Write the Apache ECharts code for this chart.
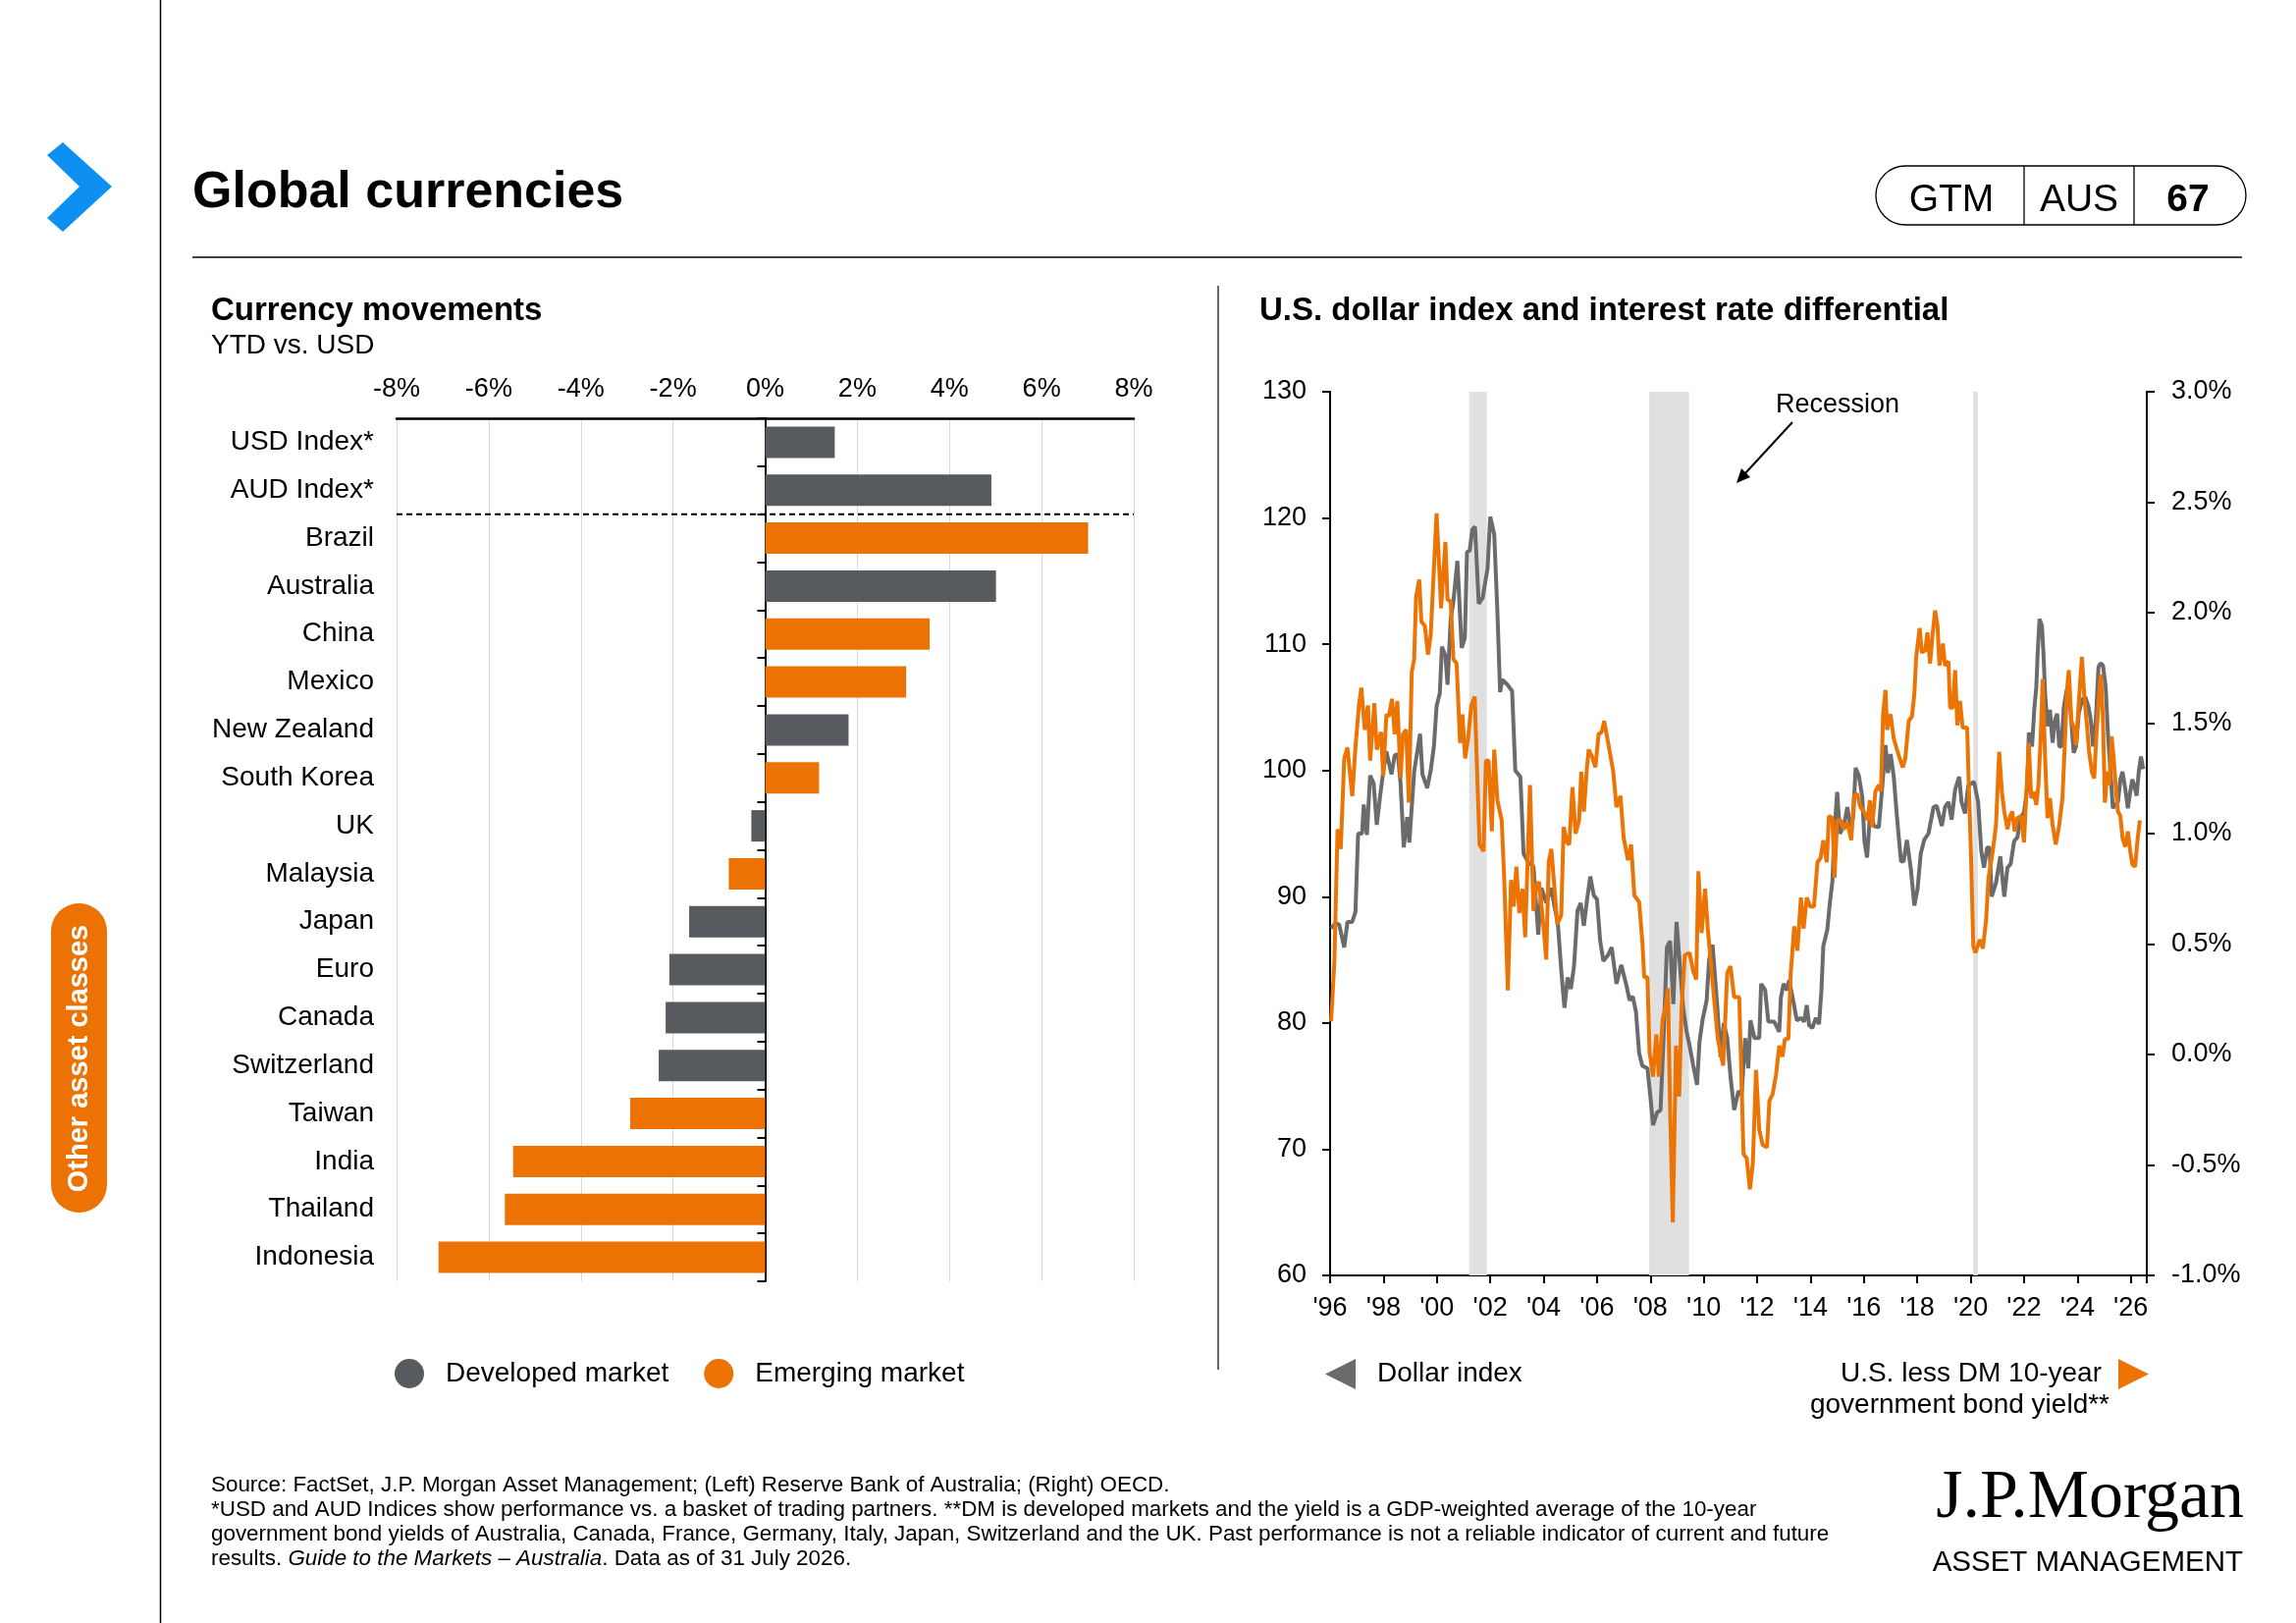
<!DOCTYPE html>
<html><head><meta charset="utf-8">
<script src="https://cdn.jsdelivr.net/npm/echarts@6/dist/echarts.min.js"></script>
<style>html,body{margin:0;padding:0;background:#fff}#c{width:2339px;height:1653px}</style>
</head><body><div id="c"></div>
<script>
// ---------- DATA ----------
const categories = ['USD Index*','AUD Index*','Brazil','Australia','China','Mexico','New Zealand','South Korea','UK','Malaysia','Japan','Euro','Canada','Switzerland','Taiwan','India','Thailand','Indonesia'];
const ytdChange = [1.51, 4.91, 7.01, 5.01, 3.57, 3.06, 1.81, 1.17, -0.30, -0.79, -1.65, -2.08, -2.16, -2.31, -2.93, -5.47, -5.65, -7.09];
const marketType = ['DM','DM','EM','DM','EM','EM','DM','EM','DM','EM','DM','DM','DM','DM','EM','EM','EM','EM'];
const recessions = [[2001.21, 2001.87], [2007.96, 2009.45], [2020.10, 2020.27]];
const dollarIndex = [[1996.04,87.5],[1996.2,87.9],[1996.34,87.8],[1996.53,86.0],[1996.65,88.0],[1996.83,88.0],[1996.95,88.8],[1997.05,95.0],[1997.2,95.0],[1997.26,97.3],[1997.38,94.9],[1997.5,99.6],[1997.63,99.0],[1997.75,95.7],[1997.87,97.9],[1997.99,99.9],[1998.11,101.5],[1998.3,99.7],[1998.42,101.2],[1998.54,101.3],[1998.64,99.0],[1998.76,93.9],[1998.89,96.3],[1998.97,94.3],[1999.15,99.9],[1999.37,102.9],[1999.46,99.7],[1999.64,98.6],[1999.77,100.0],[1999.89,101.9],[1999.99,105.1],[2000.11,106.1],[2000.19,109.8],[2000.32,109.1],[2000.4,106.8],[2000.52,112.0],[2000.62,113.4],[2000.77,116.6],[2000.93,109.7],[2001.05,110.5],[2001.13,117.3],[2001.23,117.4],[2001.33,119.1],[2001.43,119.3],[2001.57,113.2],[2001.72,113.7],[2001.78,114.5],[2001.9,116.0],[2002.0,120.1],[2002.15,118.7],[2002.27,112.5],[2002.37,106.2],[2002.45,107.2],[2002.64,106.8],[2002.82,106.3],[2002.94,100.0],[2003.13,99.5],[2003.25,93.4],[2003.43,92.7],[2003.62,92.4],[2003.8,87.0],[2003.92,90.7],[2004.1,89.5],[2004.29,90.7],[2004.41,89.2],[2004.53,88.0],[2004.66,84.2],[2004.78,81.2],[2004.9,83.6],[2005.02,82.7],[2005.14,84.5],[2005.27,88.9],[2005.39,89.5],[2005.51,87.7],[2005.63,89.8],[2005.75,91.6],[2005.88,90.1],[2006.0,89.8],[2006.12,86.5],[2006.24,84.9],[2006.42,85.4],[2006.55,86.0],[2006.73,83.1],[2006.91,84.6],[2007.1,83.0],[2007.22,81.8],[2007.34,82.1],[2007.46,80.9],[2007.58,77.6],[2007.7,76.6],[2007.89,76.4],[2008.01,74.0],[2008.1,71.9],[2008.25,72.9],[2008.38,73.1],[2008.5,79.1],[2008.62,86.0],[2008.74,86.5],[2008.86,81.5],[2008.98,88.0],[2009.11,84.5],[2009.23,81.2],[2009.35,79.4],[2009.47,78.2],[2009.6,76.7],[2009.75,75.1],[2009.84,78.5],[2009.96,80.3],[2010.11,81.8],[2010.2,85.0],[2010.33,86.2],[2010.51,81.2],[2010.63,77.3],[2010.75,80.0],[2010.88,78.8],[2011.0,75.8],[2011.14,73.1],[2011.3,74.6],[2011.42,74.3],[2011.55,78.8],[2011.67,76.4],[2011.75,80.2],[2011.9,78.8],[2012.08,78.8],[2012.15,83.1],[2012.3,82.6],[2012.42,80.1],[2012.64,80.1],[2012.83,79.3],[2012.89,82.0],[2012.99,83.1],[2013.12,82.6],[2013.2,83.4],[2013.33,82.0],[2013.49,80.2],[2013.64,80.4],[2013.76,80.1],[2013.86,81.4],[2013.95,79.8],[2014.07,79.6],[2014.2,80.4],[2014.32,79.9],[2014.41,82.6],[2014.48,86.1],[2014.63,87.4],[2014.73,89.6],[2014.82,91.2],[2014.9,95.3],[2015.0,98.3],[2015.1,95.0],[2015.25,95.6],[2015.38,97.1],[2015.5,95.5],[2015.6,96.3],[2015.69,100.2],[2015.81,99.6],[2015.94,97.9],[2016.02,94.4],[2016.12,93.1],[2016.25,97.1],[2016.37,95.6],[2016.56,95.5],[2016.68,98.5],[2016.81,102.0],[2016.9,99.8],[2017.0,101.3],[2017.12,99.5],[2017.24,96.3],[2017.39,92.8],[2017.49,92.8],[2017.61,94.5],[2017.76,92.2],[2017.89,89.3],[2018.01,90.6],[2018.13,93.4],[2018.26,94.5],[2018.42,95.0],[2018.61,97.1],[2018.73,97.2],[2018.92,95.6],[2019.04,97.1],[2019.17,97.5],[2019.29,96.1],[2019.42,98.5],[2019.57,99.5],[2019.66,97.5],[2019.79,96.6],[2019.91,98.8],[2020.13,99.1],[2020.28,97.5],[2020.4,93.6],[2020.5,92.3],[2020.62,93.9],[2020.71,93.9],[2020.79,90.0],[2020.95,91.1],[2021.11,93.2],[2021.26,90.0],[2021.38,92.3],[2021.5,92.6],[2021.63,94.4],[2021.75,94.7],[2021.87,96.2],[2022.0,96.7],[2022.12,98.6],[2022.18,103.0],[2022.3,101.9],[2022.39,105.0],[2022.46,106.6],[2022.51,109.2],[2022.58,112.0],[2022.67,111.5],[2022.73,109.2],[2022.79,106.1],[2022.88,103.5],[2022.97,104.8],[2023.07,102.2],[2023.16,104.0],[2023.24,104.5],[2023.32,101.9],[2023.4,101.9],[2023.49,105.0],[2023.59,106.3],[2023.68,106.6],[2023.77,104.0],[2023.86,101.4],[2023.95,101.9],[2024.05,104.5],[2024.17,105.6],[2024.3,105.8],[2024.42,105.0],[2024.5,104.0],[2024.59,101.9],[2024.69,104.0],[2024.79,108.2],[2024.87,108.5],[2024.96,108.3],[2025.06,106.6],[2025.15,102.7],[2025.24,99.9],[2025.33,97.0],[2025.42,97.3],[2025.52,97.5],[2025.61,99.3],[2025.69,99.9],[2025.79,98.6],[2025.89,97.0],[2025.98,98.3],[2026.06,99.3],[2026.13,98.8],[2026.22,98.0],[2026.3,99.9],[2026.38,101.1],[2026.47,100.1]];
const rateDiff = [[1996.04,0.15],[1996.16,0.42],[1996.28,1.02],[1996.4,0.93],[1996.53,1.34],[1996.65,1.39],[1996.83,1.17],[1996.95,1.39],[1997.08,1.58],[1997.17,1.66],[1997.3,1.47],[1997.42,1.58],[1997.5,1.33],[1997.66,1.59],[1997.75,1.38],[1997.91,1.46],[1997.99,1.26],[1998.11,1.54],[1998.2,1.53],[1998.32,1.61],[1998.42,1.45],[1998.52,1.6],[1998.64,1.25],[1998.73,1.45],[1998.85,1.47],[1998.95,1.14],[1999.06,1.73],[1999.15,1.79],[1999.22,2.07],[1999.34,2.15],[1999.42,1.96],[1999.55,1.94],[1999.67,1.81],[1999.77,1.9],[1999.89,2.2],[1999.99,2.45],[2000.07,2.25],[2000.16,2.02],[2000.32,2.32],[2000.4,2.06],[2000.52,2.05],[2000.62,1.79],[2000.74,1.77],[2000.87,1.41],[2000.96,1.54],[2001.06,1.34],[2001.17,1.43],[2001.29,1.58],[2001.42,1.62],[2001.5,1.31],[2001.6,0.95],[2001.75,0.92],[2001.84,1.33],[2001.94,1.33],[2002.06,1.01],[2002.15,1.38],[2002.27,1.15],[2002.43,1.06],[2002.52,0.81],[2002.66,0.29],[2002.78,0.79],[2002.88,0.67],[2002.98,0.85],[2003.09,0.64],[2003.21,0.75],[2003.31,0.53],[2003.49,1.22],[2003.62,0.65],[2003.74,0.77],[2003.83,0.78],[2003.98,0.6],[2004.1,0.43],[2004.19,0.87],[2004.29,0.93],[2004.41,0.75],[2004.51,0.59],[2004.66,0.63],[2004.75,1.03],[2004.88,0.96],[2004.96,0.95],[2005.08,1.21],[2005.2,1.0],[2005.33,1.06],[2005.41,1.28],[2005.51,1.1],[2005.61,1.28],[2005.69,1.38],[2005.81,1.35],[2005.94,1.3],[2006.06,1.45],[2006.18,1.46],[2006.27,1.51],[2006.42,1.41],[2006.61,1.28],[2006.73,1.12],[2006.88,1.17],[2007.0,0.98],[2007.16,0.88],[2007.28,0.95],[2007.4,0.72],[2007.58,0.69],[2007.7,0.51],[2007.77,0.35],[2007.89,0.35],[2007.97,0.01],[2008.1,-0.1],[2008.22,0.09],[2008.32,-0.1],[2008.46,0.16],[2008.56,0.21],[2008.66,0.3],[2008.74,-0.25],[2008.84,-0.76],[2008.96,0.04],[2009.08,-0.19],[2009.17,0.21],[2009.29,0.45],[2009.47,0.46],[2009.6,0.38],[2009.72,0.34],[2009.8,0.83],[2009.92,0.55],[2010.05,0.75],[2010.15,0.57],[2010.39,0.25],[2010.53,0.07],[2010.73,-0.05],[2010.88,0.37],[2011.0,0.4],[2011.14,0.26],[2011.33,0.26],[2011.49,-0.45],[2011.61,-0.47],[2011.73,-0.61],[2011.84,-0.49],[2011.96,-0.07],[2012.08,-0.34],[2012.21,-0.41],[2012.37,-0.42],[2012.46,-0.21],[2012.58,-0.18],[2012.71,-0.09],[2012.83,0.04],[2012.95,-0.01],[2013.04,0.07],[2013.17,0.07],[2013.26,0.37],[2013.39,0.58],[2013.51,0.47],[2013.64,0.71],[2013.74,0.57],[2013.86,0.71],[2013.99,0.67],[2014.13,0.67],[2014.26,0.87],[2014.38,0.89],[2014.48,0.97],[2014.61,0.87],[2014.69,1.08],[2014.82,1.07],[2014.9,0.8],[2015.0,1.06],[2015.13,1.06],[2015.25,1.02],[2015.38,1.05],[2015.53,0.97],[2015.63,1.17],[2015.75,1.18],[2015.87,1.12],[2016.0,1.1],[2016.15,1.06],[2016.22,1.15],[2016.31,1.03],[2016.43,1.19],[2016.56,1.22],[2016.64,1.19],[2016.72,1.54],[2016.81,1.65],[2016.87,1.47],[2017.0,1.54],[2017.12,1.43],[2017.24,1.38],[2017.37,1.33],[2017.46,1.3],[2017.55,1.34],[2017.68,1.51],[2017.8,1.53],[2017.89,1.63],[2017.96,1.8],[2018.09,1.93],[2018.17,1.82],[2018.3,1.83],[2018.38,1.91],[2018.48,1.77],[2018.58,1.91],[2018.67,2.01],[2018.76,1.94],[2018.83,1.76],[2018.96,1.86],[2019.04,1.76],[2019.17,1.78],[2019.23,1.57],[2019.33,1.57],[2019.42,1.74],[2019.5,1.49],[2019.6,1.6],[2019.7,1.48],[2019.87,1.48],[2019.93,1.22],[2020.01,0.92],[2020.1,0.49],[2020.18,0.46],[2020.34,0.52],[2020.46,0.48],[2020.58,0.61],[2020.67,0.8],[2020.83,0.92],[2020.95,1.04],[2021.07,1.37],[2021.17,1.19],[2021.26,1.1],[2021.38,1.02],[2021.48,1.08],[2021.56,1.1],[2021.65,1.01],[2021.75,1.07],[2021.89,1.08],[2022.0,0.96],[2022.09,1.19],[2022.18,1.41],[2022.27,1.16],[2022.36,1.19],[2022.46,1.13],[2022.54,1.22],[2022.62,1.42],[2022.7,1.7],[2022.79,1.34],[2022.88,1.07],[2022.97,1.16],[2023.07,1.04],[2023.19,0.95],[2023.32,1.04],[2023.44,1.16],[2023.53,1.41],[2023.61,1.65],[2023.68,1.74],[2023.77,1.51],[2023.86,1.48],[2023.95,1.4],[2024.05,1.59],[2024.17,1.8],[2024.26,1.62],[2024.35,1.5],[2024.44,1.37],[2024.54,1.28],[2024.63,1.25],[2024.71,1.44],[2024.81,1.62],[2024.88,1.72],[2024.96,1.51],[2025.03,1.14],[2025.12,1.28],[2025.2,1.22],[2025.28,1.44],[2025.36,1.34],[2025.45,1.19],[2025.52,1.1],[2025.61,1.08],[2025.69,0.98],[2025.79,0.94],[2025.89,1.01],[2025.98,0.92],[2026.06,0.86],[2026.16,0.85],[2026.26,0.98],[2026.34,1.06]];

// ---------- STYLE ----------
const FONT = "'Liberation Sans', Arial, sans-serif";
const DM_GRAY = '#575a5e';
const EM_ORANGE = '#eb7203';
const LINE_GRAY = '#6b6b6b';
const LINE_ORANGE = '#ec7405';
const BLUE = '#0e8ff2';

const dmData = ytdChange.map((v, i) => marketType[i] === 'DM' ? v : null);
const emData = ytdChange.map((v, i) => marketType[i] === 'EM' ? v : null);

const chart = echarts.init(document.getElementById('c'), null, {renderer: 'canvas'});

const option = {
  animation: false,
  backgroundColor: '#ffffff',
  textStyle: {fontFamily: FONT},
  grid: [
    {left: 404, right: 1184, top: 426, bottom: 348, containLabel: false},
    {left: 1355, right: 152, top: 399, bottom: 354, containLabel: false}
  ],
  xAxis: [
    {type: 'value', gridIndex: 0, position: 'top', min: -8, max: 8, interval: 2,
     axisLine: {show: true, onZero: false, lineStyle: {color: '#000', width: 2.5}},
     axisTick: {show: false},
     axisLabel: {formatter: v => v + '%', fontSize: 27, color: '#000', margin: 16, fontFamily: FONT},
     splitLine: {show: true, lineStyle: {color: '#d9d9d9', width: 1}}},
    {type: 'value', gridIndex: 1, position: 'bottom', min: 1996, max: 2026.6, interval: 2,
     axisLine: {show: true, onZero: false, lineStyle: {color: '#000', width: 2}},
     axisTick: {show: true, length: 8, lineStyle: {color: '#000', width: 2}},
     axisLabel: {fontSize: 27, color: '#000', margin: 20, fontFamily: FONT,
       formatter: v => (Math.abs(v - Math.round(v)) < 1e-6 && Math.round(v) % 2 === 0) ? "'" + String(Math.round(v)).slice(2) : ''},
     splitLine: {show: false}}
  ],
  yAxis: [
    {type: 'category', gridIndex: 0, data: categories, inverse: true, position: 'left',
     axisLine: {show: false, onZero: false}, axisTick: {show: false},
     axisLabel: {fontSize: 28, color: '#000', margin: 23, fontFamily: FONT},
     splitLine: {show: false}},
    {type: 'category', gridIndex: 0, data: categories, inverse: true, position: 'left',
     axisLine: {show: true, onZero: true, onZeroAxisIndex: 0, lineStyle: {color: '#000', width: 2}},
     axisTick: {show: true, length: 8, lineStyle: {color: '#000', width: 2}},
     axisLabel: {show: false}, splitLine: {show: false}},
    {type: 'value', gridIndex: 1, position: 'left', min: 60, max: 130, interval: 10,
     axisLine: {show: true, onZero: false, lineStyle: {color: '#000', width: 2}},
     axisTick: {show: true, length: 8, lineStyle: {color: '#000', width: 2}},
     axisLabel: {fontSize: 27, color: '#000', margin: 24, fontFamily: FONT},
     splitLine: {show: false}},
    {type: 'value', gridIndex: 1, position: 'right', min: -1, max: 3, interval: 0.5,
     axisLine: {show: true, onZero: false, lineStyle: {color: '#000', width: 2}},
     axisTick: {show: true, length: 8, lineStyle: {color: '#000', width: 2}},
     axisLabel: {fontSize: 27, color: '#000', margin: 25, fontFamily: FONT, formatter: v => v.toFixed(1) + '%'},
     splitLine: {show: false}}
  ],
  legend: [
    {data: ['Developed market', 'Emerging market'], left: 397, top: 1379, orient: 'horizontal',
     icon: 'circle', itemWidth: 30, itemHeight: 30, itemGap: 36, selectedMode: false,
     textStyle: {fontSize: 28, color: '#000', fontFamily: FONT, padding: [0, 0, 0, 17]}},
    {data: ['Dollar index'], left: 1345, top: 1379, icon: 'path://M0,50L100,0L100,100Z',
     itemWidth: 31, itemHeight: 31, selectedMode: false,
     textStyle: {fontSize: 28, color: '#000', fontFamily: FONT, padding: [0, 0, 0, 17]}},
    {data: ['U.S. less DM 10-year government bond yield**'], right: 145, top: 1379, align: 'right',
     icon: 'path://M0,0L100,50L0,100Z', itemWidth: 31, itemHeight: 31, selectedMode: false,
     formatter: () => 'U.S. less DM 10-year',
     textStyle: {fontSize: 28, color: '#000', fontFamily: FONT, padding: [0, 12, 0, 0]}}
  ],
  series: [
    {name: 'Developed market', type: 'bar', xAxisIndex: 0, yAxisIndex: 0, data: dmData,
     barWidth: 32, barGap: '-100%', itemStyle: {color: DM_GRAY}, z: 2},
    {name: 'Emerging market', type: 'bar', xAxisIndex: 0, yAxisIndex: 0, data: emData,
     barWidth: 32, barGap: '-100%', itemStyle: {color: EM_ORANGE}, z: 2},
    {name: 'Dollar index', type: 'line', xAxisIndex: 1, yAxisIndex: 2, data: dollarIndex,
     showSymbol: false, symbol: 'none', lineStyle: {color: LINE_GRAY, width: 4}, itemStyle: {color: LINE_GRAY}, z: 3,
     markArea: {silent: true, itemStyle: {color: '#e0e0e0'},
       data: recessions.map(r => [{xAxis: r[0]}, {xAxis: r[1]}])}},
    {name: 'U.S. less DM 10-year government bond yield**', type: 'line', xAxisIndex: 1, yAxisIndex: 3, data: rateDiff,
     showSymbol: false, symbol: 'none', lineStyle: {color: LINE_ORANGE, width: 4}, itemStyle: {color: LINE_ORANGE}, z: 4}
  ]
};
chart.setOption(option);

// ---------- DECORATION ----------
const T = (text, x, y, size, opts) => Object.assign({
  type: 'text', x: x, y: y, silent: true,
  style: Object.assign({text: text, font: (opts && opts.weight ? opts.weight + ' ' : '') + size + 'px ' + FONT,
    fill: '#000', textAlign: 'left', textVerticalAlign: 'middle'}, opts && opts.style)
}, opts && opts.el);

const yA = chart.convertToPixel({yAxisIndex: 0}, categories[1]);
const yB = chart.convertToPixel({yAxisIndex: 0}, categories[2]);
const xMin = chart.convertToPixel({xAxisIndex: 0}, -8);
const xMax = chart.convertToPixel({xAxisIndex: 0}, 8);
const yDash = (yA + yB) / 2;

const graphics = [
  {type: 'line', shape: {x1: 163.5, y1: 0, x2: 163.5, y2: 1653}, style: {stroke: '#000', lineWidth: 1.5}, silent: true},
  {type: 'polygon', shape: {points: [[64,145],[114,190],[64,236],[48,222],[81,190],[48,158]]}, style: {fill: BLUE}, silent: true},
  T('Global currencies', 196, 197, 52, {weight: 'bold'}),
  {type: 'line', shape: {x1: 196, y1: 262, x2: 2284, y2: 262}, style: {stroke: '#000', lineWidth: 1.5}, silent: true},
  {type: 'rect', shape: {x: 1911, y: 169, width: 377, height: 60, r: 30}, style: {fill: 'none', stroke: '#000', lineWidth: 1.3}, silent: true},
  {type: 'line', shape: {x1: 2062, y1: 169, x2: 2062, y2: 229}, style: {stroke: '#000', lineWidth: 1.3}, silent: true},
  {type: 'line', shape: {x1: 2174, y1: 169, x2: 2174, y2: 229}, style: {stroke: '#000', lineWidth: 1.3}, silent: true},
  T('GTM', 1988, 204, 39, {style: {textAlign: 'center'}}),
  T('AUS', 2118, 204, 39, {style: {textAlign: 'center'}}),
  T('67', 2229, 204, 39, {weight: 'bold', style: {textAlign: 'center'}}),
  {type: 'rect', shape: {x: 52, y: 920, width: 57, height: 315, r: 28.5}, style: {fill: EM_ORANGE}, silent: true},
  T('Other asset classes', 81, 1078, 29, {weight: 'bold', style: {fill: '#fff', textAlign: 'center'}, el: {rotation: Math.PI / 2}}),
  {type: 'line', shape: {x1: 1241, y1: 291, x2: 1241, y2: 1395}, style: {stroke: '#000', lineWidth: 1.2}, silent: true},
  T('Currency movements', 215, 317, 33, {weight: 'bold'}),
  T('YTD vs. USD', 215, 352, 28),
  T('U.S. dollar index and interest rate differential', 1283, 317, 33, {weight: 'bold'}),
  {type: 'line', shape: {x1: xMin, y1: yDash, x2: xMax, y2: yDash}, style: {stroke: '#000', lineWidth: 2, lineDash: [6, 4]}, silent: true, z: 100},
  T('Recession', 1872, 413, 27, {style: {textAlign: 'center'}}),
  {type: 'line', shape: {x1: 1826, y1: 430, x2: 1778, y2: 482}, style: {stroke: '#000', lineWidth: 2}, silent: true, z: 100},
  {type: 'polygon', shape: {points: [[1769,492],[1783,486],[1774,477]]}, style: {fill: '#000'}, silent: true, z: 100},
  T('government bond yield**', 2149, 1431, 28, {style: {textAlign: 'right'}}),
  T('Source: FactSet, J.P. Morgan Asset Management; (Left) Reserve Bank of Australia; (Right) OECD.', 215, 1513, 22.4),
  T('*USD and AUD Indices show performance vs. a basket of trading partners. **DM is developed markets and the yield is a GDP-weighted average of the 10-year', 215, 1538, 22.4),
  T('government bond yields of Australia, Canada, France, Germany, Italy, Japan, Switzerland and the UK. Past performance is not a reliable indicator of current and future', 215, 1563, 22.4),
  {type: 'text', x: 215, y: 1588, silent: true, style: {
    text: '{n|results. }{i|Guide to the Markets – Australia}{n|. Data as of 31 July 2026.}',
    textVerticalAlign: 'middle', fill: '#000',
    rich: {n: {font: '22.4px ' + FONT, fill: '#000'}, i: {font: 'italic 22.4px ' + FONT, fill: '#000'}}}},
  T('J.P.Morgan', 2286, 1527, 70, {style: {textAlign: 'right', font: "70px 'Liberation Serif', 'Times New Roman', serif"}}),
  T('ASSET MANAGEMENT', 2285, 1592, 29.5, {style: {textAlign: 'right'}})
];
chart.setOption({graphic: graphics});
</script>
</body></html>
